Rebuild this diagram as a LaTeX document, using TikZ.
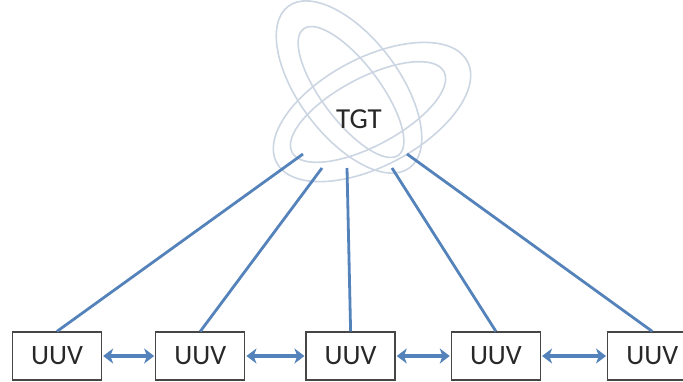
\documentclass[tikz,border=0pt]{standalone}
\usepackage{fontspec}
\setmainfont{Carlito}
\usetikzlibrary{positioning,arrows.meta}
\definecolor{linkblue}{RGB}{84,130,186}
\definecolor{orbit}{RGB}{204,213,226}
\definecolor{boxgray}{RGB}{70,70,70}
\definecolor{ink}{RGB}{40,40,40}

\begin{document}
\begin{tikzpicture}[x=0.5pt,y=-0.5pt,
  uuv/.style={draw=boxgray, line width=0.65pt, minimum width=44.5pt, minimum height=24pt, inner sep=0pt, text=ink, font=\fontsize{14}{17}\selectfont},
  ring/.style={draw=orbit, line width=0.8pt},
  link/.style={draw=linkblue, line width=1.4pt},
  bilink/.style={link, line width=1.6pt, {Stealth[length=5pt,width=7.5pt,inset=1.4pt]}-{Stealth[length=5pt,width=7.5pt,inset=1.4pt]}, shorten <=0.5pt, shorten >=0.5pt}
]
\clip (0,0) rectangle (683,381);

% target with its orbits
\draw[ring, rotate around={-53:(349,87)}] (349,87) ellipse [x radius=101, y radius=50];
\draw[ring, rotate around={-53:(351,92)}] (351,92) ellipse [x radius=79, y radius=29];
\draw[ring, rotate around={28:(372,112)}] (372,112) ellipse [x radius=108, y radius=54];
\draw[ring, rotate around={28:(368,112)}] (368,112) ellipse [x radius=86, y radius=34];
\node[text=ink, font=\fontsize{14.5}{17}\selectfont] (tgt) at (359,119) {TGT};

% where the links meet the target
\coordinate (t1) at (303,154);
\coordinate (t2) at (322,168);
\coordinate (t3) at (347,168);
\coordinate (t4) at (392,168);
\coordinate (t5) at (407,154);

% vehicles
\node[uuv] (u1) at (57,356) {UUV};
\node[uuv, right=26.5pt of u1] (u2) {UUV};
\node[uuv, right=30pt of u2] (u3) {UUV};
\node[uuv, right=27.5pt of u3] (u4) {UUV};
\node[uuv, right=33pt of u4] (u5) {UUV};

\foreach \i in {1,...,5}
  \draw[link] (u\i.north) -- (t\i);

\draw[bilink] (u1) -- (u2);
\draw[bilink] (u2) -- (u3);
\draw[bilink] (u3) -- (u4);
\draw[bilink] (u4) -- (u5);
\end{tikzpicture}
\end{document}
